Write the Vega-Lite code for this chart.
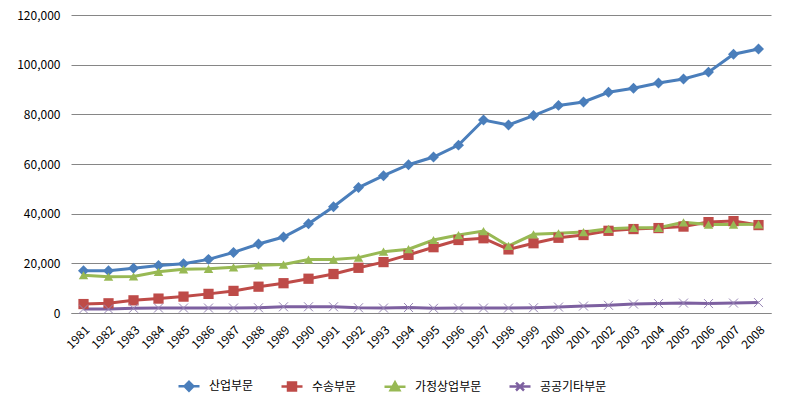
{
  "$schema": "https://vega.github.io/schema/vega-lite/v6.json",
  "width": 700,
  "height": 298,
  "autosize": {"type": "none"},
  "padding": {"left": 71, "top": 15, "right": 15, "bottom": 93},
  "background": "white",
  "config": {
    "view": {"stroke": null},
    "font": "Noto Sans CJK KR",
    "axis": {"labelFont": "Noto Sans CJK KR", "labelColor": "#000000", "labelFontSize": 12}
  },
  "datasets": {
    "raw": [
      {"year": "1981", "a": 17000, "b": 3600, "c": 15200, "d": 1600},
      {"year": "1982", "a": 17000, "b": 3900, "c": 14600, "d": 1600},
      {"year": "1983", "a": 18000, "b": 5100, "c": 14700, "d": 1900},
      {"year": "1984", "a": 19100, "b": 5800, "c": 16600, "d": 2000},
      {"year": "1985", "a": 19800, "b": 6600, "c": 17600, "d": 2000},
      {"year": "1986", "a": 21600, "b": 7700, "c": 17800, "d": 2000},
      {"year": "1987", "a": 24400, "b": 8900, "c": 18400, "d": 2000},
      {"year": "1988", "a": 27800, "b": 10600, "c": 19200, "d": 2100},
      {"year": "1989", "a": 30600, "b": 12000, "c": 19500, "d": 2500},
      {"year": "1990", "a": 35900, "b": 13800, "c": 21500, "d": 2500},
      {"year": "1991", "a": 42800, "b": 15700, "c": 21500, "d": 2500},
      {"year": "1992", "a": 50500, "b": 18200, "c": 22300, "d": 2100},
      {"year": "1993", "a": 55300, "b": 20500, "c": 24700, "d": 2000},
      {"year": "1994", "a": 59700, "b": 23400, "c": 25700, "d": 2200},
      {"year": "1995", "a": 62800, "b": 26500, "c": 29400, "d": 1900},
      {"year": "1996", "a": 67600, "b": 29400, "c": 31400, "d": 2000},
      {"year": "1997", "a": 77700, "b": 30100, "c": 33000, "d": 2000},
      {"year": "1998", "a": 75700, "b": 25600, "c": 27000, "d": 2000},
      {"year": "1999", "a": 79500, "b": 28100, "c": 31700, "d": 2100},
      {"year": "2000", "a": 83600, "b": 30300, "c": 32100, "d": 2400},
      {"year": "2001", "a": 85000, "b": 31400, "c": 32600, "d": 2800},
      {"year": "2002", "a": 88900, "b": 33100, "c": 33900, "d": 3100},
      {"year": "2003", "a": 90500, "b": 33800, "c": 34300, "d": 3600},
      {"year": "2004", "a": 92600, "b": 34200, "c": 34300, "d": 3800},
      {"year": "2005", "a": 94200, "b": 34800, "c": 36500, "d": 4000},
      {"year": "2006", "a": 97000, "b": 36600, "c": 35600, "d": 3800},
      {"year": "2007", "a": 104200, "b": 37000, "c": 35600, "d": 4000},
      {"year": "2008", "a": 106300, "b": 35400, "c": 35700, "d": 4200}
    ]
  },
  "data": {"name": "raw"},
  "transform": [
    {"fold": ["a", "b", "c", "d"], "as": ["key", "value"]},
    {"lookup": "key", "from": {"data": {"values": [
      {"key": "a", "series": "산업부문"},
      {"key": "b", "series": "수송부문"},
      {"key": "c", "series": "가정상업부문"},
      {"key": "d", "series": "공공기타부문"}
    ]}, "key": "key", "fields": ["series"]}}
  ],
  "encoding": {
    "x": {
      "field": "year", "type": "ordinal", "title": null,
      "scale": {"type": "point", "padding": 0.5},
      "axis": {"labelAngle": -45, "ticks": false, "domainColor": "#868686", "grid": false, "labelPadding": 11}
    },
    "y": {
      "field": "value", "type": "quantitative", "title": null,
      "scale": {"domain": [0, 120000], "nice": false},
      "axis": {"format": ",d", "values": [0, 20000, 40000, 60000, 80000, 100000, 120000], "domain": false, "ticks": false, "gridColor": "#868686", "gridOpacity": 1, "labelPadding": 11}
    }
  },
  "layer": [
    {
      "mark": {"type": "line", "strokeWidth": 3},
      "encoding": {
        "color": {
          "field": "series", "type": "nominal",
          "scale": {"domain": ["산업부문", "수송부문", "가정상업부문", "공공기타부문"], "range": ["#4A7EBB", "#BE4B48", "#98B954", "#7D60A0"]},
          "legend": {
            "orient": "none", "legendX": 106, "legendY": 359, "direction": "horizontal", "title": null,
            "padding": 0,
            "symbolSize": 441, "symbolStrokeWidth": 2.5,
            "labelFontSize": 12, "labelFont": "Noto Sans CJK KR", "labelColor": "#000000",
            "columnPadding": 22, "labelOffset": 8,
            "encode": {"symbols": {"update": {
              "shape": {"signal": "datum.value === '산업부문' ? 'M-1,0H1M0,-0.42L0.42,0L0,0.42L-0.42,0Z' : datum.value === '수송부문' ? 'M-1,0H1M-0.38,-0.38H0.38V0.38H-0.38Z' : datum.value === '가정상업부문' ? 'M-1,0H1M0,-0.42L0.42,0.34H-0.42Z' : 'M-1,0H1M-0.38,-0.38L0.38,0.38M-0.38,0.38L0.38,-0.38'"},
              "fill": {"signal": "scale('color', datum.value)"}
            }}}
          }
        }
      }
    },
    {
      "transform": [{"filter": "datum.series !== '공공기타부문'"}],
      "mark": {"type": "point", "filled": true, "opacity": 1},
      "encoding": {
        "color": {"field": "series", "type": "nominal", "legend": null},
        "shape": {
          "field": "series", "type": "nominal", "legend": null,
          "scale": {"domain": ["산업부문", "수송부문", "가정상업부문"], "range": ["diamond", "square", "triangle-up"]}
        },
        "size": {
          "field": "series", "type": "nominal", "legend": null,
          "scale": {"domain": ["산업부문", "수송부문", "가정상업부문"], "range": [120, 90, 110]}
        }
      }
    },
    {
      "transform": [{"filter": "datum.series === '공공기타부문'"}],
      "mark": {"type": "point", "filled": false, "shape": "M-1,-1L1,1M-1,1L1,-1", "size": 81, "stroke": "#9886B5", "strokeWidth": 1, "opacity": 1},
      "encoding": {}
    }
  ]
}
